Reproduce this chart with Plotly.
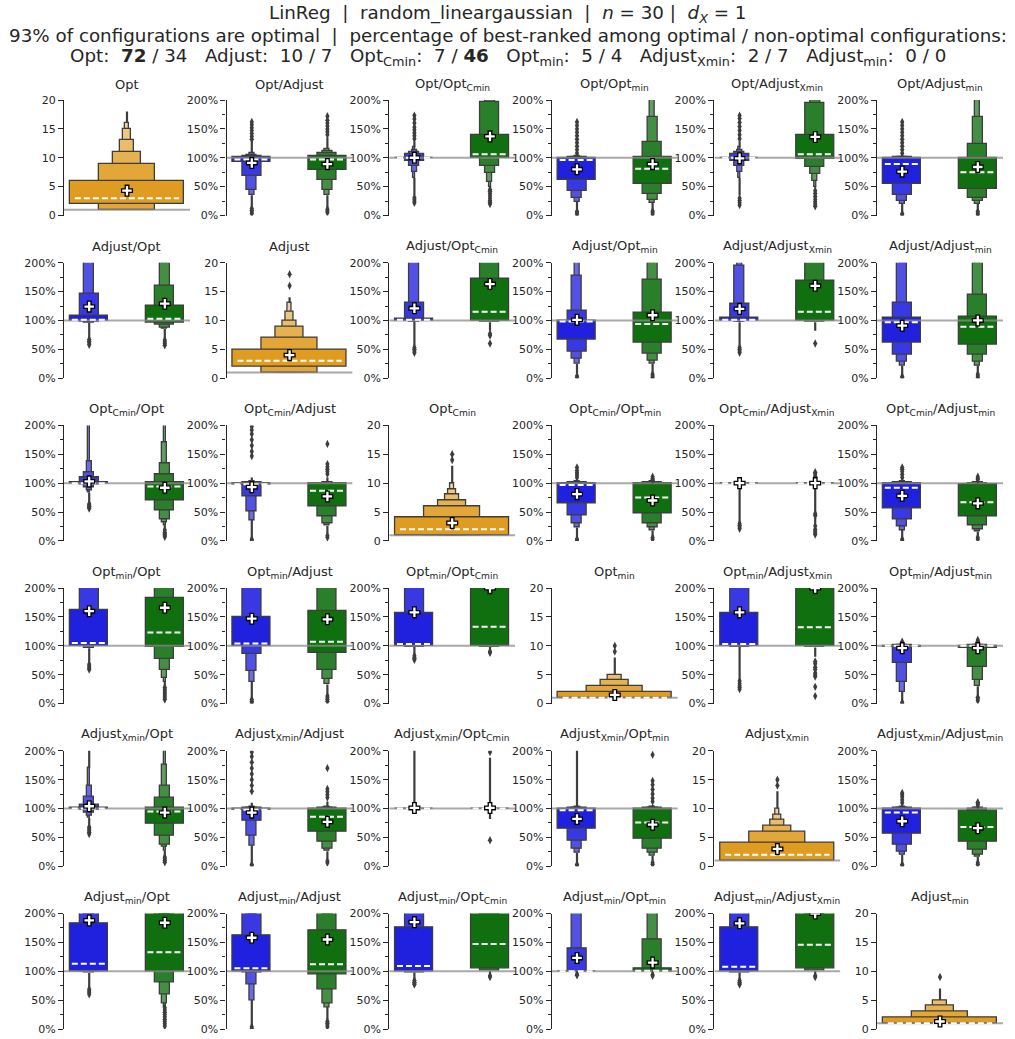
import plotly.graph_objects as go
from plotly.subplots import make_subplots

# ---------------- data ----------------
METHODS = ["Opt", "Adjust", "Opt<sub>Cmin</sub>", "Opt<sub>min</sub>",
           "Adjust<sub>Xmin</sub>", "Adjust<sub>min</sub>"]

TITLE_LINES = [
    "LinReg  |  random_lineargaussian  |  <i>n</i> = 30 |  <i>d<sub>X</sub></i> = 1",
    "93% of configurations are optimal  |  percentage of best-ranked among optimal / non-optimal configurations:",
    "Opt:  <b>72</b> / 34   Adjust:  10 / 7   Opt<sub>Cmin</sub>:  7 / <b>46</b>   Opt<sub>min</sub>:  5 / 4   "
    "Adjust<sub>Xmin</sub>:  2 / 7   Adjust<sub>min</sub>:  0 / 0",
]

# diagonal panels (rank of each method), letter-value boxes inner -> outer
DIAG_LEVELS = [
    [(2, 6), (1, 9), (1, 11), (1, 13), (1, 15), (1, 16)],
    [(2, 5), (1, 7), (1, 9), (1, 10), (1, 11.5), (1, 13)],
    [(1, 4), (1, 6), (1, 7), (1, 8), (1, 9), (1, 10)],
    [(1, 2), (1, 3), (1, 4), (1, 5)],
    [(1, 4), (1, 6), (1, 7), (1, 8), (1, 9), (1, 10)],
    [(1, 2), (1, 3), (1, 4), (1, 5)],
]
DIAG_MEDIAN = [3, 3, 2, 1, 2, 1]
DIAG_MEAN = [4.3, 4.0, 3.1, 1.5, 3.0, 1.3]
DIAG_TAIL = [(1, 18), (1, 14), (1, 13), (1, 8), (1, 13), (1, 7)]
DIAG_OUTLIERS = [[], [16, 18], [14, 15], [9, 10], [14, 15], [9]]

# off-diagonal panels, row-major order skipping the diagonal (values in %)
PAIRS = [(0, 1), (0, 2), (0, 3), (0, 4), (0, 5),
         (1, 0), (1, 2), (1, 3), (1, 4), (1, 5),
         (2, 0), (2, 1), (2, 3), (2, 4), (2, 5),
         (3, 0), (3, 1), (3, 2), (3, 4), (3, 5),
         (4, 0), (4, 1), (4, 2), (4, 3), (4, 5),
         (5, 0), (5, 1), (5, 2), (5, 3), (5, 4)]

BLUE_LEVELS = [
    [(92, 101), (68, 103), (45, 105), (35, 108)],
    [(99.6, 100.4), (95, 106), (85, 110), (75, 113), (65, 118)],
    [(61, 100), (42, 101), (31, 102), (24, 103)],
    [(99.6, 100.4), (95, 106), (85, 110), (75, 113), (65, 118)],
    [(54, 100), (35, 100.5), (25, 101), (20, 102)],
    [(100, 108), (98, 146), (96, 260)],
    [(100, 103), (99, 131), (98, 260)],
    [(66, 100), (46, 117), (33, 178), (25, 260)],
    [(100, 104), (99, 129), (98, 195), (97, 260)],
    [(62, 104), (41, 130), (29, 260), (22, 280)],
    [(99.5, 102), (97, 110), (92, 118), (88, 138), (84, 260)],
    [(97, 100), (77, 101), (51, 102), (36, 103)],
    [(65, 100), (44, 101), (31, 102), (23, 103)],
    [(99.6, 100.4)],
    [(57, 100), (38, 101), (25, 102), (19, 103)],
    [(100, 162), (99, 260), (96, 280)],
    [(100, 149), (85, 260), (57, 280), (38, 290)],
    [(100, 156), (98, 260)],
    [(100, 156), (98, 260)],
    [(97, 100), (70, 100.5), (38, 101), (20, 102)],
    [(99.5, 101.5), (97, 107), (93, 120), (88, 140), (84, 170)],
    [(97, 100), (79, 101), (52, 102), (36, 103)],
    [(99.6, 100.4)],
    [(65, 100), (44, 101), (31, 102), (23, 103)],
    [(57, 100), (38, 101), (25, 102), (20, 103)],
    [(100, 182), (99, 260), (97, 280)],
    [(100, 162), (97, 260), (77, 280), (50, 290)],
    [(100, 176), (98, 260)],
    [(99.6, 100.4), (100, 140), (100, 260)],
    [(100, 176), (98, 260)],
]
BLUE_MEDIAN = [97, 100, 96, 100, 89, 101, 101, 98, 101, 97,
               100, 98, 97, 100, 92, 105, 104, 103, 103, 100,
               100, 98, 100, 97, 93, 113, 105, 109, 100, 108]
BLUE_MEAN = [91, 100, 80, 99, 76, 124, 121, 101, 120, 91,
             103, 93, 81, 100, 78, 160, 147, 158, 158, 96,
             104, 93, 101, 82, 78, 188, 158, 185, 123, 183]
BLUE_TAIL = [(5, 130), (35, 128), (10, 105), (35, 128), (4, 105),
             (68, 300), (56, 300), (8, 300), (56, 300), (5, 300),
             (65, 300), (4, 110), (4, 108), (31, 108), (4, 108),
             (70, 300), (8, 300), (84, 300), (41, 300), (3, 104),
             (72, 300), (4, 110), (92, 300), (4, 300), (4, 108),
             (71, 300), (6, 300), (85, 300), (96, 300), (85, 300)]
BLUE_OUTLIERS = [
    [3, 6, 9, 12, 132, 137, 142, 147, 152, 157, 162],
    [22, 25, 28, 31, 133, 138, 143, 148, 153, 160, 167, 173],
    [1, 4, 7, 108, 114, 120, 126, 132, 138, 144, 150, 156, 162],
    [18, 22, 26, 30, 133, 140, 147, 154, 161, 168, 173],
    [1, 3, 108, 114, 120, 126, 132, 138, 144, 150, 156, 162],
    [58, 61, 64, 67],
    [44, 47, 50, 53],
    [1, 4],
    [44, 47, 50, 53],
    [1, 3],
    [56, 58, 60, 62, 64],
    [1, 3, 147, 155, 165, 175, 185, 192, 198],
    [1, 3, 110, 114, 118, 122, 127],
    [21, 24, 27, 30],
    [1, 3, 110, 115, 120, 124, 127],
    [59, 62, 65, 68],
    [1, 4, 7],
    [76, 78, 80, 83],
    [25, 28, 31, 35, 39],
    [0.5, 2, 105, 107],
    [56, 59, 62, 65, 68],
    [1, 3, 130, 140, 150, 160, 170, 180, 190, 198],
    [],
    [1, 3],
    [1, 3, 110, 115, 120, 124, 127],
    [60, 63, 66, 69],
    [1, 4],
    [77, 79, 81, 84],
    [93, 95],
    [77, 79, 81, 84],
]

GREEN_LEVELS = [
    [(79, 103), (62, 108), (45, 112), (35, 116)],
    [(100, 140), (85, 196), (73, 230), (58, 260), (50, 280)],
    [(54, 102), (38, 128), (27, 171), (22, 260)],
    [(98, 140), (84, 194), (72, 230), (60, 260), (50, 280)],
    [(46, 100), (30, 123), (25, 170), (20, 260)],
    [(96, 126), (92, 160), (88, 260), (85, 280)],
    [(100, 172), (97, 260)],
    [(62, 113), (43, 170), (30, 260), (25, 280)],
    [(100, 169), (97, 260)],
    [(58, 106), (41, 145), (28, 260), (22, 280)],
    [(70, 101), (52, 116), (38, 134), (32, 170), (27, 260)],
    [(59, 99), (42, 100), (31, 101), (26, 102)],
    [(47, 99), (31, 101), (24, 102), (18, 103)],
    [(99.6, 100.4)],
    [(42, 97), (27, 100), (20, 101), (16, 102)],
    [(97, 183), (77, 260), (58, 280), (44, 290), (38, 295)],
    [(88, 161), (58, 260), (42, 280), (33, 290)],
    [(100, 260), (98, 280)],
    [(100, 260), (97, 280)],
    [(96, 100), (63, 100.5), (40, 101), (30, 102)],
    [(73, 102), (53, 118), (38, 140), (33, 175), (27, 260)],
    [(60, 100), (43, 101), (31, 102), (26, 103)],
    [(99.6, 100.4)],
    [(47, 100), (31, 101), (24, 102), (18, 103)],
    [(43, 96), (29, 100), (20, 101), (16, 102)],
    [(100, 260), (81, 280), (60, 290), (45, 295), (37, 298)],
    [(94, 171), (68, 260), (45, 280), (38, 290)],
    [(104, 260), (101, 280)],
    [(100, 105), (101, 155), (100, 260)],
    [(104, 260), (101, 280)],
]
GREEN_MEDIAN = [97, 106, 81, 106, 75, 103, 115, 94, 115, 89,
                94, 87, 75, 100, 67, 123, 107, 133, 132, 100,
                95, 86, 100, 76, 68, 133, 112, 147, 101, 146]
GREEN_MEAN = [89, 137, 89, 136, 84, 129, 163, 109, 160, 100,
              92, 77, 70, 100, 65, 166, 146, 200, 200, 96,
              93, 77, 101, 72, 66, 184, 155, 230, 115, 200]
GREEN_TAIL = [(12, 135), (47, 300), (10, 300), (48, 300), (8, 300),
              (67, 300), (82, 300), (8, 300), (82, 300), (6, 300),
              (16, 300), (12, 110), (8, 104), (30, 110), (7, 104),
              (28, 300), (14, 300), (92, 300), (81, 300), (14, 104),
              (16, 300), (12, 112), (82, 188), (8, 106), (7, 104),
              (30, 300), (14, 300), (93, 300), (96, 300), (93, 300)]
GREEN_OUTLIERS = [
    [5, 8, 11, 140, 145, 150, 155, 160, 165, 172],
    [20, 23, 26, 30, 34, 38, 42, 45],
    [2, 5, 8],
    [16, 20, 24, 28, 33, 38, 43],
    [1, 4, 7],
    [57, 60, 63, 66],
    [74, 77, 60],
    [1, 4, 7],
    [60],
    [1, 4, 7],
    [7, 9, 11, 13, 15, 19],
    [6, 9, 116, 120, 124, 128, 133, 168],
    [3, 6, 106, 108, 111],
    [11, 14, 17, 20, 26, 44, 47, 112, 116, 119],
    [3, 6, 106, 108, 111],
    [7, 10, 13, 16, 19, 22, 25, 28],
    [4, 7, 10, 13],
    [88, 90],
    [13, 29, 47, 50, 53, 59, 63, 69, 73],
    [5, 8, 11, 106, 108, 110],
    [7, 10, 13, 16],
    [6, 9, 119, 124, 129, 134, 170],
    [45, 198],
    [3, 6, 112, 118, 125, 133, 141, 148, 193],
    [3, 6, 106, 108, 111],
    [5, 9, 13, 17, 21, 25, 29, 33, 37],
    [4, 7, 10, 13],
    [90, 92],
    [92, 94],
    [90, 92],
]

# ---------------- style ----------------
W, H = 1015, 1039
COL_LEFT, COL_STEP, AX_W = 64, 162.6, 126
ROW_TOP, ROW_STEP, AX_H = 100, 162.7, 115.5
TITLE_Y = [14, 35.5, 57]
BLUE = (32, 32, 223)
GREEN = (16, 112, 16)
ORANGE = (223, 156, 32)
EDGE = "#3d3d3d"
TXT = "#262626"
FONT = "DejaVu Sans"
LIGHT_STEP = 0.11


def rgb(c, t):
    return "rgb(%d,%d,%d)" % tuple(round(v + (255 - v) * t) for v in c)


fig = make_subplots(rows=6, cols=6)


def add_boxen(row, col, boxes, cx, width0):
    """boxes: list of (color, levels, median, mean, tail, outliers)"""
    kw = dict(row=row + 1, col=col + 1)
    bx, bw, bb, bh, bc = [], [], [], [], []
    tx, ty = [], []
    for color, levels, med, mean, tail, outs in boxes:
        lo_min = min(l[0] for l in levels)
        hi_max = max(l[1] for l in levels)
        if tail[0] < lo_min:
            tx += [cx[color], cx[color], None]
            ty += [tail[0], lo_min, None]
        if tail[1] > hi_max:
            tx += [cx[color], cx[color], None]
            ty += [hi_max, tail[1], None]
        for i in range(len(levels) - 1, -1, -1):
            lo, hi = levels[i]
            bx.append(cx[color])
            bw.append(width0 * 0.5 ** i)
            bb.append(lo)
            bh.append(hi - lo)
            bc.append(rgb(color, LIGHT_STEP * i))
    fig.add_trace(go.Bar(x=bx, y=bh, base=bb, width=bw,
                         marker=dict(color=bc, line=dict(color=EDGE, width=1.3)),
                         hoverinfo="skip", showlegend=False), **kw)
    fig.add_trace(go.Scatter(x=tx, y=ty, mode="lines", line=dict(color=EDGE, width=2.2),
                             hoverinfo="skip", showlegend=False), **kw)


for r in range(6):
    for c in range(6):
        kw = dict(row=r + 1, col=c + 1)
        if r == c:
            ref = 1
            boxes = [(ORANGE, DIAG_LEVELS[r], DIAG_MEDIAN[r], DIAG_MEAN[r], DIAG_TAIL[r], DIAG_OUTLIERS[r])]
            cx = {ORANGE: 0.5}
            w0 = 0.9
        else:
            ref = 100
            j = PAIRS.index((r, c))
            boxes = [(BLUE, BLUE_LEVELS[j], BLUE_MEDIAN[j], BLUE_MEAN[j], BLUE_TAIL[j], BLUE_OUTLIERS[j]),
                     (GREEN, GREEN_LEVELS[j], GREEN_MEDIAN[j], GREEN_MEAN[j], GREEN_TAIL[j], GREEN_OUTLIERS[j])]
            cx = {BLUE: 0.2, GREEN: 0.8}
            w0 = 0.3
        add_boxen(r, c, boxes, cx, w0)
        # reference line
        fig.add_trace(go.Scatter(x=[0, 1], y=[ref, ref], mode="lines",
                                 line=dict(color="rgba(140,140,140,0.75)", width=2),
                                 hoverinfo="skip", showlegend=False), **kw)
        # medians
        mx, my = [], []
        for color, levels, med, mean, tail, outs in boxes:
            half = w0 / 2 * 0.92
            mx += [cx[color] - half, cx[color] + half, None]
            my += [med, med, None]
        fig.add_trace(go.Scatter(x=mx, y=my, mode="lines",
                                 line=dict(color="white", width=2, dash="6px,3px"),
                                 hoverinfo="skip", showlegend=False), **kw)
        # outliers
        ox, oy = [], []
        for color, levels, med, mean, tail, outs in boxes:
            ox += [cx[color]] * len(outs)
            oy += list(outs)
        fig.add_trace(go.Scatter(x=ox, y=oy, mode="markers",
                                 marker=dict(symbol="diamond-tall", size=6, color=EDGE),
                                 hoverinfo="skip", showlegend=False), **kw)
        # means
        fig.add_trace(go.Scatter(x=[cx[b[0]] for b in boxes], y=[b[3] for b in boxes], mode="markers",
                                 marker=dict(symbol="cross", size=9, color="white",
                                             line=dict(color="black", width=1.3)),
                                 hoverinfo="skip", showlegend=False), **kw)

        # axes
        x0 = (COL_LEFT + COL_STEP * c) / W
        x1 = (COL_LEFT + COL_STEP * c + AX_W) / W
        ytop = ROW_TOP + ROW_STEP * r
        y1 = 1 - ytop / H
        y0 = 1 - (ytop + AX_H) / H
        fig.update_xaxes(domain=[x0, x1], range=[0, 1], visible=False, automargin=False, **kw)
        yax = dict(domain=[y0, y1], showline=True, linecolor=TXT, linewidth=1.3,
                   ticks="outside", ticklen=5, tickwidth=1.2, tickcolor=TXT,
                   showgrid=False, zeroline=False, automargin=False,
                   tickfont=dict(family=FONT, size=11, color=TXT))
        if r == c:
            yax.update(range=[0, 20], tickvals=[0, 5, 10, 15, 20],
                       ticktext=["0", "5", "10", "15", "20"])
        else:
            yax.update(range=[0, 200], tickvals=[0, 50, 100, 150, 200],
                       ticktext=["0%", "50%", "100%", "150%", "200%"],
                       minor=dict(tickvals=[25, 75, 125, 175], ticks="outside",
                                  ticklen=3, tickwidth=1, tickcolor=TXT))
        fig.update_yaxes(**yax, **kw)
        title = METHODS[r] if r == c else METHODS[r] + "/" + METHODS[c]
        fig.add_annotation(text=title, xref="paper", yref="paper",
                           x=(x0 + x1) / 2, y=1 - (ytop - 16) / H,
                           xanchor="center", yanchor="middle", showarrow=False,
                           font=dict(family=FONT, size=13, color=TXT))

for line, ty in zip(TITLE_LINES, TITLE_Y):
    fig.add_annotation(text=line, xref="paper", yref="paper",
                       x=0.5, y=1 - ty / H, xanchor="center", yanchor="middle", showarrow=False,
                       font=dict(family=FONT, size=18.3, color=TXT))

fig.update_layout(template="none", width=W, height=H, margin=dict(l=0, r=0, t=0, b=0, pad=0),
                  plot_bgcolor="white", paper_bgcolor="white", autosize=False,
                  barmode="overlay", bargap=0, showlegend=False)
fig.write_html("out.html", config={"displayModeBar": False, "responsive": False},
               post_script="document.body.style.margin='0px';document.body.style.overflow='hidden';")
